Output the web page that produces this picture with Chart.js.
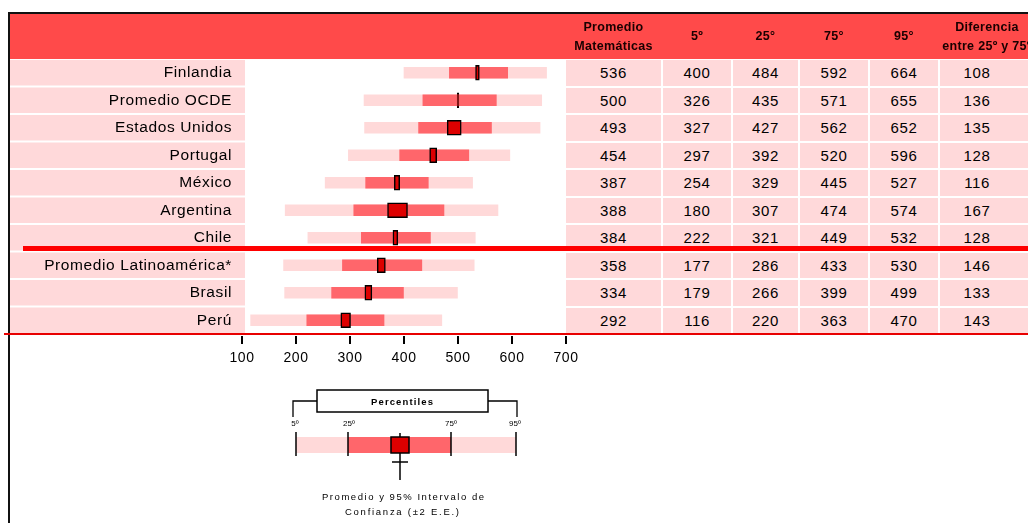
<!DOCTYPE html>
<html>
<head>
<meta charset="utf-8">
<script src="https://cdn.jsdelivr.net/npm/chart.js@4/dist/chart.umd.min.js"></script>
<style>
  body { margin: 0; background: #fff; font-family: "Liberation Sans", Arial, sans-serif; }
  #page { position: relative; width: 1028px; height: 523px; overflow: hidden; }
  #myChart { position: absolute; left: 0; top: 0; z-index: 2; }
  .band { position: absolute; left: 9px; top: 14px; width: 1019px; height: 45px; background: #ff4a4a; z-index: 1; }
  .hcell { position: absolute; top: 14px; height: 45px; display: flex; flex-direction: column; justify-content: center; align-items: center; z-index: 4;
           font-weight: bold; font-size: 12.5px; line-height: 19px; letter-spacing: 0.3px; white-space: nowrap; }
  .hcell span { color: #1a0000; }
  .cell { position: absolute; background: #ffd9da; text-align: center; font-size: 15px; color: #000; letter-spacing: 0.6px; z-index: 1; }
  .line { position: absolute; z-index: 3; }
  .tick { position: absolute; z-index: 3; width: 2px; height: 8px; background: #000; }
  #legendKey { position: absolute; left: 0; top: 0; z-index: 3; }
</style>
</head>
<body>
<div id="page">
  <div class="band"></div>
  <canvas id="myChart" width="1028" height="523"></canvas>
  <div id="table"></div>
  <div class="line" style="left:9px;top:12px;width:1019px;height:2px;background:#111"></div>
  <div class="line" style="left:8px;top:12px;width:2px;height:511px;background:#111"></div>
  <div class="line" style="left:23px;top:246px;width:1005px;height:5px;background:#ff0000"></div>
  <div class="line" style="left:4px;top:333px;width:1024px;height:2px;background:#e80000"></div>
  <svg id="legendKey" width="1028" height="523" font-family="Liberation Sans, Arial, sans-serif">
    <rect x="317" y="390" width="171" height="22" fill="#fff" stroke="#000" stroke-width="1.5"/>
    <text x="402" y="404.5" font-size="9.5" font-weight="bold" text-anchor="middle" textLength="62" lengthAdjust="spacing">Percentiles</text>
    <polyline points="317,401 293,401 293,417" fill="none" stroke="#000" stroke-width="1.3"/>
    <polyline points="488,401 517,401 517,417" fill="none" stroke="#000" stroke-width="1.3"/>
    <text x="295" y="426" font-size="8" text-anchor="middle">5º</text>
    <text x="349" y="426" font-size="8" text-anchor="middle">25º</text>
    <text x="451" y="426" font-size="8" text-anchor="middle">75º</text>
    <text x="515" y="426" font-size="8" text-anchor="middle">95º</text>
    <rect x="296" y="437" width="220" height="16" fill="#ffd9d9"/>
    <rect x="348" y="437" width="103" height="16" fill="#ff666b"/>
    <line x1="296" y1="432" x2="296" y2="456" stroke="#000" stroke-width="1.5"/>
    <line x1="348" y1="432" x2="348" y2="456" stroke="#000" stroke-width="1.5"/>
    <line x1="451" y1="432" x2="451" y2="456" stroke="#000" stroke-width="1.5"/>
    <line x1="516" y1="432" x2="516" y2="456" stroke="#000" stroke-width="1.5"/>
    <line x1="400" y1="433" x2="400" y2="437" stroke="#000" stroke-width="1.5"/>
    <rect x="391" y="437" width="18" height="16" fill="#dd0000" stroke="#000" stroke-width="1.5"/>
    <line x1="400" y1="453" x2="400" y2="480" stroke="#000" stroke-width="1.5"/>
    <line x1="392" y1="462" x2="408" y2="462" stroke="#000" stroke-width="1.5"/>
    <text x="403" y="500" font-size="9.5" text-anchor="middle" textLength="162" lengthAdjust="spacing">Promedio y 95% Intervalo de</text>
    <text x="402" y="515" font-size="9.5" text-anchor="middle" textLength="114" lengthAdjust="spacing">Confianza  (±2 E.E.)</text>
  </svg>
</div>
<script>
const countries = ["Finlandia", "Promedio OCDE", "Estados Unidos", "Portugal", "México", "Argentina", "Chile", "Promedio Latinoamérica*", "Brasil", "Perú"];
const mean = [536, 500, 493, 454, 387, 388, 384, 358, 334, 292];
const p5 = [400, 326, 327, 297, 254, 180, 222, 177, 179, 116];
const p25 = [484, 435, 427, 392, 329, 307, 321, 286, 266, 220];
const p75 = [592, 571, 562, 520, 445, 474, 449, 433, 399, 363];
const p95 = [664, 655, 652, 596, 527, 574, 532, 530, 499, 470];
const diff = [108, 136, 135, 128, 116, 167, 128, 146, 133, 143];
// half width of the mean box (95% interval)
const ciHalf = [3.5, 1.5, 13, 6.5, 5, 18.5, 4.5, 7.5, 6.5, 9];
const xTicks = [100, 200, 300, 400, 500, 600, 700];

const headers = [["Promedio", "Matemáticas"], ["5º"], ["25°"], ["75°"], ["95°"], ["Diferencia", "entre 25º y 75º"]];
const colLeft = [566, 663, 733, 800, 870, 940];
const colWidth = [95, 68, 65, 68, 68, 94];

const rowCells = {
  id: "rowCells",
  beforeDraw(chart) {
    const { ctx, scales: { y } } = chart;
    ctx.save();
    ctx.fillStyle = "#ffd9da";
    countries.forEach((c, i) => {
      const yc = y.getPixelForValue(i);
      ctx.fillRect(10, yc - 12.75, 235, 25.5);
    });
    ctx.restore();
    ctx.letterSpacing = "0.6px";
  },
};

const chart = new Chart(document.getElementById("myChart"), {
  type: "bar",
  data: {
    labels: countries,
    datasets: [
      {
        label: "Promedio (IC 95%)",
        data: mean.map((m, i) => [m - ciHalf[i], m + ciHalf[i]]),
        backgroundColor: "#dd0000",
        borderColor: "#000",
        borderWidth: 1.5,
        borderSkipped: false,
        barThickness: 15,
        order: 0,
      },
      {
        label: "25º - 75º",
        data: p25.map((v, i) => [v, p75[i]]),
        backgroundColor: "#ff666b",
        barThickness: 11,
        order: 1,
      },
      {
        label: "5º - 95º",
        data: p5.map((v, i) => [v, p95[i]]),
        backgroundColor: "#ffd9d9",
        barThickness: 11,
        order: 2,
      },
    ],
  },
  options: {
    indexAxis: "y",
    responsive: false,
    animation: false,
    datasets: { bar: { grouped: false } },
    layout: { padding: { top: 59, left: 0, right: 462, bottom: 149 } },
    plugins: {
      legend: { display: false },
      tooltip: { enabled: false },
    },
    scales: {
      x: {
        type: "linear",
        min: xTicks[0],
        max: xTicks[xTicks.length - 1],
        afterBuildTicks: (s) => { s.ticks = xTicks.map((v) => ({ value: v })); },
        ticks: { color: "#000", font: { size: 14, family: "Liberation Sans" }, padding: 16 },
        grid: { display: false, drawTicks: false },
        border: { display: false },
        afterFit: (s) => { s.height = 40; },
      },
      y: {
        ticks: { color: "#000", font: { size: 15.5, family: "Liberation Sans" }, padding: 10 },
        grid: { display: false, drawTicks: false },
        border: { display: false },
        afterFit: (s) => { s.width = 242; },
      },
    },
  },
  plugins: [rowCells],
});

const page = document.getElementById("page");
const xScale = chart.scales.x;
// short tick marks under the red axis line, placed with the chart's x scale
xTicks.forEach((v) => {
  const t = document.createElement("div");
  t.className = "tick";
  t.style.left = (Math.round(xScale.getPixelForValue(v)) - 1) + "px";
  t.style.top = (Math.round(xScale.top) + 2) + "px";
  page.appendChild(t);
});

// table on the right, rows lined up with the chart's category scale
const table = document.getElementById("table");
headers.forEach((h, c) => {
  const d = document.createElement("div");
  d.className = "hcell";
  d.style.left = colLeft[c] + "px";
  d.style.width = colWidth[c] + "px";
  h.forEach((t) => {
    const s = document.createElement("span");
    s.textContent = t;
    d.appendChild(s);
  });
  table.appendChild(d);
});
const yScale = chart.scales.y;
countries.forEach((name, i) => {
  const vals = [mean[i], p5[i], p25[i], p75[i], p95[i], diff[i]];
  const yc = yScale.getPixelForValue(i);
  vals.forEach((v, c) => {
    const d = document.createElement("div");
    d.className = "cell";
    d.style.left = colLeft[c] + "px";
    d.style.width = (c === 5 ? colWidth[c] - 20 : colWidth[c]) + "px";
    if (c === 5) d.style.paddingRight = "20px";
    d.style.top = (yc - 12.75) + "px";
    d.style.height = "25.5px";
    d.style.lineHeight = "25.5px";
    d.textContent = v;
    table.appendChild(d);
  });
});
</script>
</body>
</html>
